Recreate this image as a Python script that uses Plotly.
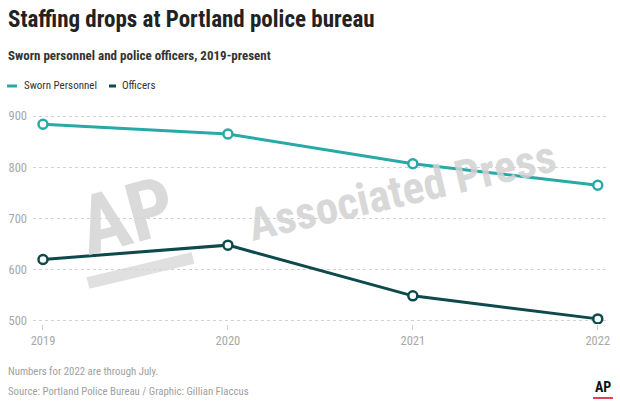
import plotly.graph_objects as go

years = [2019, 2020, 2021, 2022]
sworn = [884, 865, 807, 765]
officers = [620, 648, 549, 504]
y_ticks = [500, 600, 700, 800, 900]
series_names = ["Sworn Personnel", "Officers"]

title = "Staffing drops at Portland police bureau"
subtitle = "Sworn personnel and police officers, 2019-present"
note = "Numbers for 2022 are through July."
source = "Source: Portland Police Bureau / Graphic: Gillian Flaccus"

C_SWORN = "#27a9a8"
C_OFF = "#0e4a4c"
FONT = "Roboto Condensed"

W, H = 620.0, 411.0
pl, pr, pt, pb = 33, 13, 113, 87
pw, ph = W - pl - pr, H - pt - pb

def px(xx):
    return (xx - pl) / pw

def py(yy):
    return (H - pb - yy) / ph

fig = go.Figure()
for name, vals, col in [(series_names[0], sworn, C_SWORN), (series_names[1], officers, C_OFF)]:
    fig.add_trace(go.Scatter(x=years, y=vals, name=name, mode="lines+markers", showlegend=False,
                             line=dict(color=col, width=3),
                             marker=dict(size=9, color="white", line=dict(color=col, width=2.5))))

def txt(s, x, y, size, color, bold=False, xanchor="left"):
    return dict(text=("<b>%s</b>" % s) if bold else s, x=px(x), y=py(y), xref="paper", yref="paper",
                xanchor=xanchor, yanchor="middle", showarrow=False,
                font=dict(family=FONT, size=size, color=color))

ann = [
    dict(text="<b>AP</b>", x=px(127), y=py(216), xref="paper", yref="paper", showarrow=False,
         xanchor="center", yanchor="middle", opacity=0.85,
         font=dict(family=FONT, size=82, color="#d4d4d4"), textangle=-15),
    dict(text="<b>Associated Press</b>", x=px(402), y=py(190), xref="paper", yref="paper", showarrow=False,
         xanchor="center", yanchor="middle", opacity=0.85,
         font=dict(family=FONT, size=45, color="#d2d2d2"), textangle=-13),
    txt(title, 6, 19, 23, "#222222", bold=True),
    txt(subtitle, 6, 55, 13, "#333333", bold=True),
    txt(series_names[0], 22, 86, 11, "#333333"),
    txt(series_names[1], 120, 86, 11, "#333333"),
    txt(note, 6, 371, 10.8, "#a0a0a0"),
    txt(source, 6, 391, 10.8, "#a0a0a0"),
    txt("AP", 603, 387, 14, "#111111", bold=True, xanchor="center"),
]

shapes = [
    dict(type="line", xref="paper", yref="paper", x0=px(7), x1=px(17), y0=py(86), y1=py(86),
         line=dict(color=C_SWORN, width=3)),
    dict(type="line", xref="paper", yref="paper", x0=px(109), x1=px(116), y0=py(86), y1=py(86),
         line=dict(color=C_OFF, width=3)),
    dict(type="line", xref="paper", yref="paper", x0=px(593), x1=px(613), y0=py(398), y1=py(398),
         line=dict(color="#e0405a", width=2)),
    dict(type="line", xref="paper", yref="paper", x0=px(88), x1=px(193), y0=py(283), y1=py(258),
         line=dict(color="#e0e0e0", width=12), layer="below"),
]

fig.update_layout(
    width=W, height=H,
    margin=dict(l=pl, r=pr, t=pt, b=pb, autoexpand=False),
    paper_bgcolor="white", plot_bgcolor="white",
    font=dict(family=FONT, color="#a0a0a0", size=12),
    showlegend=False,
    xaxis=dict(range=[2018.946, 2022.05], tickvals=years, ticktext=[str(y) for y in years],
               showgrid=False, zeroline=False, showline=False, ticks="outside", ticklen=5,
               tickcolor="#d0d0d0", tickfont=dict(family=FONT, size=12.5, color="#a8a8a8"), fixedrange=True),
    yaxis=dict(range=[494, 906], tickvals=y_ticks, showgrid=True, gridcolor="#d2d2d2", griddash="dot",
               gridwidth=1, zeroline=False, showline=False, ticks="", ticklabelstandoff=5,
               tickfont=dict(family=FONT, size=12.5, color="#a8a8a8"), fixedrange=True),
    annotations=ann,
    shapes=shapes,
)
fig.write_html("out.html", config={"displayModeBar": False},
               post_script="document.body.style.margin='0px';document.body.style.overflow='hidden';")
